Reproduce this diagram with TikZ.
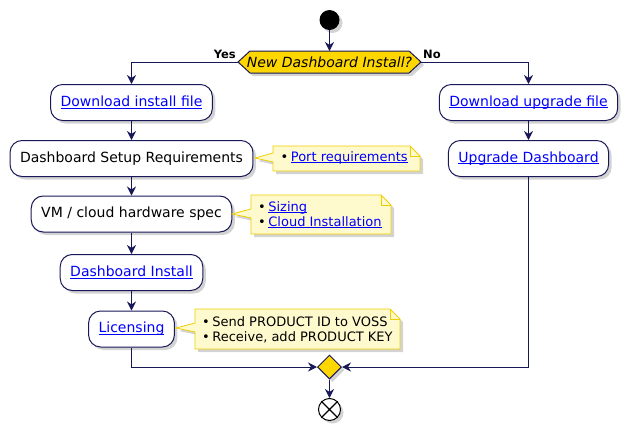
\documentclass[tikz,border=0pt]{standalone}
\usepackage{fontspec}
\setmainfont{DejaVu Sans}
\usetikzlibrary{arrows.meta,shadows,shapes.geometric}
\definecolor{navy}{RGB}{24,24,88}
\definecolor{gold}{RGB}{255,215,0}
\definecolor{notefill}{RGB}{255,250,205}
\definecolor{noteedge}{RGB}{240,205,0}
\definecolor{linkblue}{RGB}{0,0,255}
\newcommand\lnk[1]{\textcolor{linkblue}{\setbox0\hbox{#1}\rlap{\rule[-1.8pt]{\wd0}{0.9pt}}\box0}}
\newcommand\notebox[6]{%
  \fill[black!50,opacity=0.35,shift={(3,3)}] (#1,#2) -- ({#3-10},#2) -- (#3,{#2+10}) -- (#3,#4) -- (#1,#4) -- (#1,{#6+4}) -- (#5,#6) -- (#1,{#6-5}) -- cycle;
  \draw[noteedge,fill=notefill,line width=0.8pt] (#1,#2) -- ({#3-10},#2) -- (#3,{#2+10}) -- (#3,#4) -- (#1,#4) -- (#1,{#6+4}) -- (#5,#6) -- (#1,{#6-5}) -- cycle;
  \draw[noteedge,line width=0.8pt] ({#3-10},#2) -- ({#3-10},{#2+10}) -- (#3,{#2+10});
}
\tikzset{
  act/.style={draw=navy, fill=white, line width=1pt, rounded corners=12pt,
    minimum height=36pt, inner xsep=10pt, font=\fontsize{14}{16}\selectfont,
    drop shadow={shadow xshift=3pt,shadow yshift=-3pt,opacity=0.35,fill=black!50}},
  flow/.style={draw=navy, line width=1pt, -{Stealth[length=9pt,width=9pt,inset=3pt]}},
  notetext/.style={anchor=west, inner sep=0pt, font=\fontsize{13}{15}\selectfont},
  lbl/.style={inner sep=0pt, font=\fontsize{11.5}{13}\selectfont\bfseries}
}
\begin{document}
\begin{tikzpicture}[x=1pt,y=-1pt]
\useasboundingbox (0,0) rectangle (625,429);

% start
\node[circle, fill=black, minimum size=20pt, inner sep=0pt,
  drop shadow={shadow xshift=3pt,shadow yshift=-3pt,opacity=0.35,fill=black!50}] (start) at (329.5,20) {};

% decision
\fill[black!50,opacity=0.35,shift={(3,3)}] (238,62) -- (250,51) -- (409,51) -- (421,62) -- (409,73) -- (250,73) -- cycle;
\draw[navy,fill=gold,line width=1pt] (238,62) -- (250,51) -- (409,51) -- (421,62) -- (409,73) -- (250,73) -- cycle;
\node[inner sep=0pt, font=\fontsize{14}{16}\selectfont\itshape] (dec) at (329.5,62) {New Dashboard Install?};
\coordinate (decT) at (329.5,51);
\coordinate (decL) at (238,62);
\coordinate (decR) at (421,62);
\node[lbl, anchor=base east] (yes) at (236,58) {Yes};
\node[lbl, anchor=base west] (no) at (423,58) {No};

% left branch
\node[act] (dl)  at (131.5,102.5) {\lnk{Download install file}};
\node[act] (dsr) at (131.5,158.5) {Dashboard Setup Requirements};
\node[act] (vm)  at (131.5,214)   {VM / cloud hardware spec};
\node[act] (di)  at (131.5,272.5) {\lnk{Dashboard Install}};
\node[act] (lic) at (131.5,329)   {\lnk{Licensing}};

% right branch
\node[act] (du) at (528.5,102.5) {\lnk{Download upgrade file}};
\node[act] (ud) at (528.5,158.5) {\lnk{Upgrade Dashboard}};

% merge and end
\node[diamond, fill=gold, draw=navy, line width=1pt, minimum width=24pt, minimum height=24pt, inner sep=0pt,
  drop shadow={shadow xshift=3pt,shadow yshift=-3pt,opacity=0.35,fill=black!50}] (merge) at (329.5,367) {};
\node[circle, draw=black, fill=white, line width=1pt, minimum size=22pt, inner sep=0pt,
  drop shadow={shadow xshift=3pt,shadow yshift=-3pt,opacity=0.35,fill=black!50}] (end) at (329.5,409.5) {};
\draw[line width=1.2pt] (end.north west) -- (end.south east) (end.north east) -- (end.south west);

% notes
\notebox{273}{146}{420}{171}{255}{158}
\node[notetext] (n1) at (280.5,158) {•\hspace{2.5pt}\lnk{Port requirements}};
\notebox{251}{195}{391}{234}{232}{214}
\node[notetext] (n2a) at (258,207.5) {•\hspace{2.5pt}\lnk{Sizing}};
\node[notetext] (n2b) at (258,222.5) {•\hspace{2.5pt}\lnk{Cloud Installation}};
\notebox{195}{309}{400}{349}{176}{328}
\node[notetext] (n3a) at (202,322) {•\hspace{2.5pt}Send PRODUCT ID to VOSS};
\node[notetext] (n3b) at (202,337) {•\hspace{2.5pt}Receive, add PRODUCT KEY};

% connectors
\draw[flow] (start) -- (decT);
\draw[flow] (decL) -| (dl.north);
\draw[flow] (decR) -| (du.north);
\draw[flow] (dl) -- (dsr);
\draw[flow] (dsr) -- (vm);
\draw[flow] (vm) -- (di);
\draw[flow] (di) -- (lic);
\draw[flow] (du) -- (ud);
\draw[flow] (lic.south) |- (merge.west);
\draw[flow] (ud.south) |- (merge.east);
\draw[flow] (merge.south) -- (end.north);
\end{tikzpicture}
\end{document}
